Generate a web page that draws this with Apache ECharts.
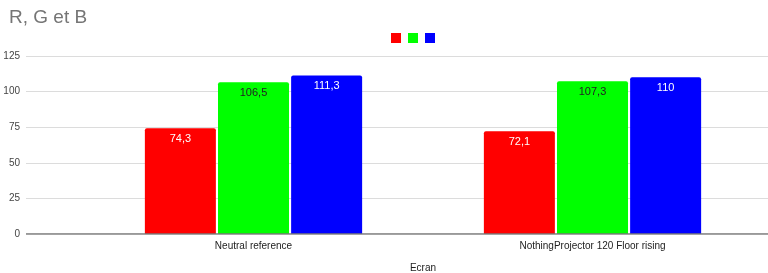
<!DOCTYPE html>
<html><head><meta charset="utf-8">
<script src="https://cdn.jsdelivr.net/npm/echarts@6/dist/echarts.min.js"></script>
<style>html,body{margin:0;padding:0;background:#fff}#c{width:768px;height:273px}</style>
</head><body><div id="c"></div>
<script>
const categories = ['Neutral reference', 'NothingProjector 120 Floor rising'];
const seriesNames = ['R', 'G', 'B'];
const rValues = [74.3, 72.1];
const gValues = [106.5, 107.3];
const bValues = [111.3, 110];
const yTicks = [0, 25, 50, 75, 100, 125];
const colors = ['#ff0000', '#00ff00', '#0000ff'];
const labelColors = ['#ffffff', '#222222', '#ffffff'];
const values = [rValues, gValues, bValues];

const chart = echarts.init(document.getElementById('c'));
const fmt = p => String(p.value).replace('.', ',');
const font = 'Arial, "Liberation Sans", sans-serif';
chart.setOption({
  animation: false,
  title: { text: 'R, G et B', left: 4, top: 3, textStyle: { fontFamily: font, fontSize: 19, fontWeight: 'normal', color: '#757575' } },
  legend: {
    top: 28, left: 386, itemWidth: 10, itemHeight: 10, itemGap: 7,
    icon: 'rect', formatter: () => '', textStyle: { fontSize: 10 },
    data: seriesNames
  },
  grid: [
    { left: 26, right: 0, top: 56, bottom: 39, outerBoundsMode: 'none', containLabel: false },
    { left: 84, right: 6, top: 56, bottom: 39, outerBoundsMode: 'none', containLabel: false }
  ],
  xAxis: [
    { type: 'value', gridIndex: 0, min: 0, max: 1, show: true, axisLabel: { show: false }, axisTick: { show: false }, splitLine: { show: false }, axisLine: { show: false } },
    { type: 'category', gridIndex: 1, data: categories,
      axisLine: { show: false }, axisTick: { show: false },
      axisLabel: { color: '#222', fontSize: 10, fontFamily: font, margin: 7 },
      name: 'Ecran', nameLocation: 'middle', nameGap: 29,
      nameTextStyle: { color: '#222', fontSize: 10, fontFamily: font } }
  ],
  yAxis: [
    { type: 'value', gridIndex: 0, min: yTicks[0], max: yTicks[yTicks.length - 1], interval: 25,
      axisLine: { show: false }, axisTick: { show: false },
      axisLabel: { color: '#444', fontSize: 10, fontFamily: font, margin: 6 },
      splitLine: { lineStyle: { color: '#dcdcdc', width: 1 } } },
    { type: 'value', gridIndex: 1, min: yTicks[0], max: yTicks[yTicks.length - 1], interval: 25, show: false }
  ],
  series: [
    { type: 'line', xAxisIndex: 0, yAxisIndex: 0, data: [[0, 0], [1, 0]], symbol: 'none', silent: true,
      lineStyle: { color: '#777', width: 1.5 }, name: '_base', z: 5 },
    ...seriesNames.map((n, i) => ({
      name: n, type: 'bar', xAxisIndex: 1, yAxisIndex: 1, data: values[i],
      barWidth: 71, barGap: '3%',
      itemStyle: { color: colors[i], borderRadius: [2, 2, 0, 0] },
      label: { show: true, position: 'insideTop', distance: 5, color: labelColors[i], fontSize: 11, fontFamily: font, formatter: fmt }
    }))
  ]
});
</script></body></html>
